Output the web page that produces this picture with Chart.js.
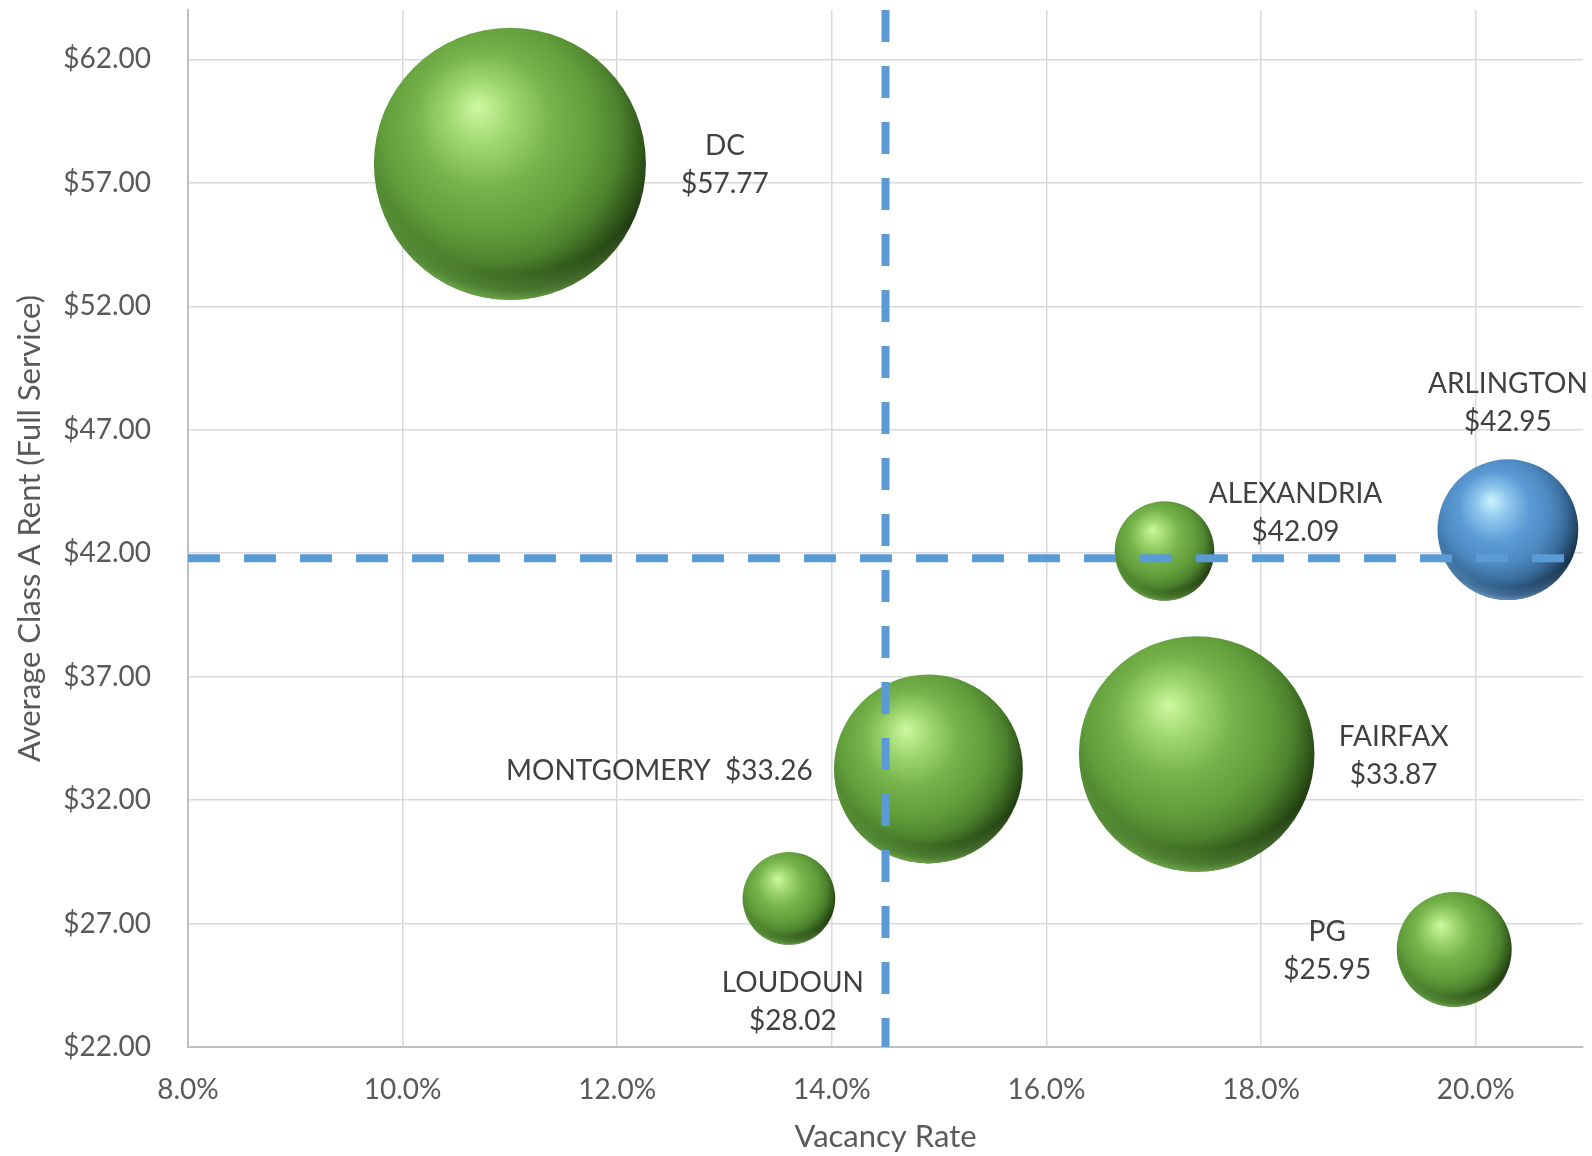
<!DOCTYPE html>
<html>
<head>
<meta charset="utf-8">
<title>Class A Rent vs Vacancy</title>
<script src="https://cdn.jsdelivr.net/npm/chart.js@4.4.1/dist/chart.umd.min.js"></script>
<style>
  html, body { margin:0; padding:0; background:#fff; }
  #wrap { width:1592px; height:1156px; }
</style>
</head>
<body>
<div id="wrap"><canvas id="chart" width="1592" height="1156"></canvas></div>
<script>
// data
const REGIONS   = ["DC", "ARLINGTON", "ALEXANDRIA", "FAIRFAX", "MONTGOMERY", "LOUDOUN", "PG"];
const VACANCY   = [11.0, 20.3, 17.1, 17.4, 14.9, 13.6, 19.8];          // %
const RENT      = [57.77, 42.95, 42.09, 33.87, 33.26, 28.02, 25.95];   // $ / sf
const INVENTORY = [112, 30, 15, 84, 54, 13, 20];                       // bubble size (relative)
const AVG_VACANCY = 14.5;
const AVG_RENT    = 41.8;

const X_MIN = 8,  X_MAX = 21;
const Y_MIN = 22, Y_MAX = 64;
const X_TICKS = [8, 10, 12, 14, 16, 18, 20];
const Y_TICKS = [22, 27, 32, 37, 42, 47, 52, 57, 62];

// styling
const FONT = "Lato";
const MAX_R = 136;
const HIGHLIGHT = "ARLINGTON";
const GREEN = [[0,"#cdf9a0"],[0.2,"#9fd76f"],[0.42,"#76b34b"],[0.64,"#629f3b"],[0.8,"#4c822d"],[0.92,"#30571a"],[1,"#1d3510"]];
const BLUE  = [[0,"#cdf3ff"],[0.2,"#8cc4ec"],[0.42,"#5b9bd5"],[0.64,"#4d89c0"],[0.8,"#3a6d9c"],[0.92,"#24486a"],[1,"#142b42"]];
const GREEN_RIM = "128,196,88";
const BLUE_RIM  = "120,176,228";
// label block centre relative to bubble centre, px
const LABEL_POS = {
  DC: [215, 1], ARLINGTON: [0, -127], ALEXANDRIA: [131, -38], FAIRFAX: [197, 2],
  MONTGOMERY: [-269, 2], LOUDOUN: [4, 104], PG: [-127, 1]
};

function qs(sel, root=document){ return root.querySelector(sel); }
function fmtRent(v){ return "$" + v.toFixed(2); }

const maxInv = Math.max(...INVENTORY);
const bubbles = REGIONS.map((n, i) => ({
  x: VACANCY[i], y: RENT[i], r: MAX_R * Math.sqrt(INVENTORY[i] / maxInv)
}));

function centre(ctx){
  const s = ctx.chart.scales;
  return [s.x.getPixelForValue(ctx.raw.x), s.y.getPixelForValue(ctx.raw.y), ctx.raw.r];
}

// main sphere body
function sphereFill(ctx){
  const pal = REGIONS[ctx.dataIndex] === HIGHLIGHT ? BLUE : GREEN;
  if (ctx.type !== "data" || !ctx.chart.chartArea) return pal[3][1];
  const [cx, cy, r] = centre(ctx);
  const g = ctx.chart.ctx.createRadialGradient(cx - 0.24*r, cy - 0.42*r, 0, cx - 0.12*r, cy - 0.18*r, 1.2*r);
  pal.forEach(([o, c]) => g.addColorStop(o, c));
  return g;
}

// light reflected along the lower rim
function rimFill(ctx){
  const rgb = REGIONS[ctx.dataIndex] === HIGHLIGHT ? BLUE_RIM : GREEN_RIM;
  if (ctx.type !== "data" || !ctx.chart.chartArea) return "rgba(0,0,0,0)";
  const [cx, cy, r] = centre(ctx);
  const g = ctx.chart.ctx.createRadialGradient(cx + 0.05*r, cy - 0.3*r, 0, cx + 0.05*r, cy - 0.3*r, 1.3*r);
  g.addColorStop(0, `rgba(${rgb},0)`);
  g.addColorStop(0.85, `rgba(${rgb},0)`);
  g.addColorStop(0.95, `rgba(${rgb},0.4)`);
  g.addColorStop(1, `rgba(${rgb},0.75)`);
  return g;
}

const labelPlugin = {
  id: "bubbleLabels",
  afterDatasetsDraw(chart){
    const idx = chart.data.datasets.findIndex(d => d.label === "Submarkets");
    const meta = chart.getDatasetMeta(idx);
    const c = chart.ctx;
    c.save();
    c.font = `28px ${FONT}`;
    c.fillStyle = "#404040";
    c.textAlign = "center";
    c.textBaseline = "middle";
    meta.data.forEach((el, i) => {
      const name = REGIONS[i];
      const [dx, dy] = LABEL_POS[name];
      const lines = name === "MONTGOMERY" ? [name + "  " + fmtRent(RENT[i])] : [name, fmtRent(RENT[i])];
      const lh = 38;
      const y0 = el.y + dy - (lines.length - 1) * lh / 2;
      lines.forEach((t, k) => c.fillText(t, el.x + dx, y0 + k * lh));
    });
    c.restore();
  }
};

const refLine = {
  type: "line", borderColor: "#5b9bd5", borderWidth: 8, borderDash: [32, 24],
  pointRadius: 0, pointHoverRadius: 0, fill: false, tension: 0
};

// datasets listed first are painted last (on top)
new Chart(qs("#chart"), {
  type: "bubble",
  data: {
    datasets: [
      { ...refLine, label: "Avg vacancy", data: [{x: AVG_VACANCY, y: Y_MAX}, {x: AVG_VACANCY, y: Y_MIN}] },
      { ...refLine, label: "Avg rent", data: [{x: X_MIN, y: AVG_RENT}, {x: X_MAX, y: AVG_RENT}] },
      { type: "bubble", label: "Rim", data: bubbles, backgroundColor: rimFill, borderWidth: 0 },
      { type: "bubble", label: "Submarkets", data: bubbles, backgroundColor: sphereFill, borderWidth: 0 }
    ]
  },
  options: {
    responsive: false,
    animation: false,
    events: [],
    layout: { autoPadding: false, padding: { left: 0, right: 9, top: 10, bottom: 0 } },
    plugins: { legend: { display: false }, tooltip: { enabled: false } },
    scales: {
      x: {
        type: "linear", min: X_MIN, max: X_MAX,
        afterBuildTicks: s => { s.ticks = X_TICKS.map(v => ({ value: v })); },
        afterFit: s => { s.height = 109; s.paddingLeft = 0; s.paddingRight = 0; },
        grid: { color: "#d9d9d9", lineWidth: 1.5, drawTicks: false },
        border: { color: "#bfbfbf", width: 2 },
        ticks: { padding: 26, color: "#595959", font: { family: FONT, size: 28 }, callback: v => v.toFixed(1) + "%" },
        title: { display: true, text: "Vacancy Rate", color: "#595959", font: { family: FONT, size: 31 }, padding: { top: 0, bottom: 0 } }
      },
      y: {
        type: "linear", min: Y_MIN, max: Y_MAX,
        afterBuildTicks: s => { s.ticks = Y_TICKS.map(v => ({ value: v })); },
        afterFit: s => { s.width = 188; s.paddingTop = 0; s.paddingBottom = 0; },
        grid: { color: "#d9d9d9", lineWidth: 1.5, drawTicks: false },
        border: { color: "#bfbfbf", width: 2 },
        ticks: { padding: 37, color: "#595959", font: { family: FONT, size: 28 }, callback: v => fmtRent(v) },
        title: { display: true, text: "Average Class A Rent (Full Service)", color: "#595959", font: { family: FONT, size: 31 }, padding: { top: 11, bottom: 0 } }
      }
    }
  },
  plugins: [labelPlugin]
});
</script>
</body>
</html>
